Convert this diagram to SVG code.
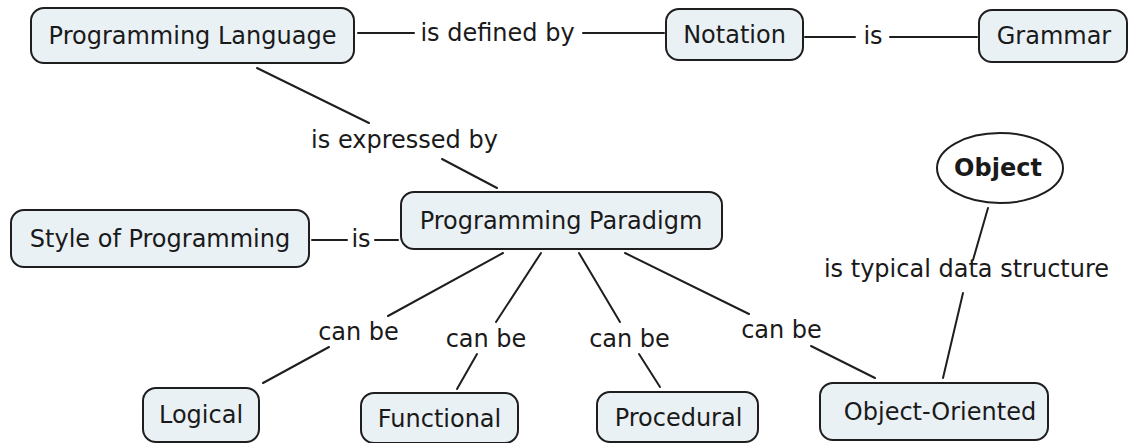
<svg xmlns="http://www.w3.org/2000/svg" width="1129" height="443" viewBox="0 0 1129 443">
<style>
.box{fill:#eaf1f5;stroke:#1e1e1e;stroke-width:2}
.t{font-family:"DejaVu Sans",Verdana,sans-serif;font-size:24px;fill:#1a1a1a;text-anchor:middle}
.b{font-weight:bold}
.c line{stroke:#1e1e1e;stroke-width:2;stroke-linecap:round}
</style>
<rect width="1129" height="443" fill="#ffffff"/>
<g id="connectors" class="c">
<line x1="358" y1="33" x2="414" y2="33"/>
<line x1="583" y1="33" x2="664" y2="33"/>
<line x1="805" y1="37" x2="855" y2="37"/>
<line x1="890" y1="37" x2="977" y2="37"/>
<line x1="257" y1="68" x2="369" y2="123"/>
<line x1="442" y1="159" x2="497" y2="188"/>
<line x1="312" y1="240" x2="347" y2="240"/>
<line x1="375" y1="240" x2="398" y2="240"/>
<line x1="503" y1="253" x2="388" y2="316"/>
<line x1="329" y1="347" x2="263" y2="383"/>
<line x1="541" y1="253" x2="496" y2="322"/>
<line x1="477" y1="354" x2="457" y2="389"/>
<line x1="579" y1="253" x2="620" y2="322"/>
<line x1="639" y1="354" x2="660" y2="387"/>
<line x1="625" y1="253" x2="749" y2="314"/>
<line x1="811" y1="346" x2="875" y2="378"/>
<line x1="988" y1="208" x2="973" y2="260"/>
<line x1="963" y1="293" x2="943" y2="378"/>
<text class="t" x="497.5" y="41">is defined by</text>
<text class="t" x="873" y="44">is</text>
<text class="t" x="361" y="247">is</text>
<text class="t" x="404.5" y="148">is expressed by</text>
<text class="t" x="358.5" y="340">can be</text>
<text class="t" x="486" y="347">can be</text>
<text class="t" x="629.5" y="347">can be</text>
<text class="t" x="781.5" y="338">can be</text>
<text class="t" x="966.5" y="277">is typical data structure</text>
</g>
<g id="programming-language"><rect class="box" x="31" y="8" width="323" height="55" rx="13"/><text class="t" x="192.5" y="44">Programming Language</text></g>
<g id="notation"><rect class="box" x="666" y="9" width="137" height="51" rx="13"/><text class="t" x="734.5" y="43">Notation</text></g>
<g id="grammar"><rect class="box" x="979" y="10" width="148" height="52" rx="13"/><text class="t" x="1054" y="44">Grammar</text></g>
<g id="style-of-programming"><rect class="box" x="11" y="210" width="298" height="57" rx="13"/><text class="t" x="160" y="247">Style of Programming</text></g>
<g id="programming-paradigm"><rect class="box" x="401" y="192" width="321" height="57" rx="13"/><text class="t" x="561" y="229">Programming Paradigm</text></g>
<g id="object"><ellipse cx="1000" cy="168" rx="63" ry="35" fill="#ffffff" stroke="#1e1e1e" stroke-width="2"/><text class="t b" x="998" y="176">Object</text></g>
<g id="logical"><rect class="box" x="143" y="388" width="116" height="54" rx="13"/><text class="t" x="201" y="423">Logical</text></g>
<g id="functional"><rect class="box" x="361" y="393" width="157" height="50" rx="13"/><text class="t" x="439.5" y="427">Functional</text></g>
<g id="procedural"><rect class="box" x="597" y="392" width="161" height="50" rx="13"/><text class="t" x="678.5" y="426">Procedural</text></g>
<g id="object-oriented"><rect class="box" x="820" y="383" width="228" height="57" rx="13"/><text class="t" x="940" y="420">Object-Oriented</text></g>
</svg>
